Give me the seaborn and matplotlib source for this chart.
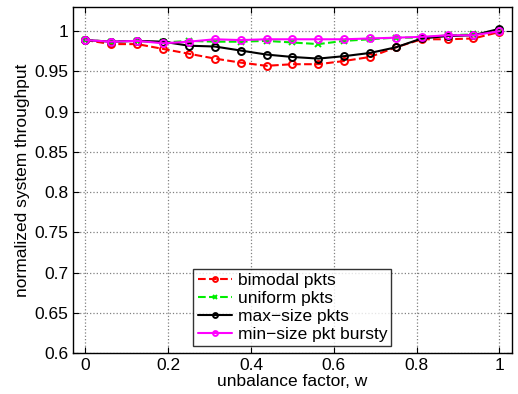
import numpy as np
import pandas as pd
import matplotlib
matplotlib.use("Agg")
import matplotlib.pyplot as plt
import seaborn as sns

# unbalance factor, 17 points from 0 to 1
w = [0, 0.0625, 0.125, 0.1875, 0.25, 0.3125, 0.375, 0.4375, 0.5,
     0.5625, 0.625, 0.6875, 0.75, 0.8125, 0.875, 0.9375, 1.0]

bimodal = [0.989, 0.984, 0.984, 0.978, 0.972, 0.966, 0.961, 0.957, 0.959,
           0.959, 0.963, 0.968, 0.980, 0.990, 0.990, 0.991, 0.999]
uniform = [0.989, 0.987, 0.988, 0.986, 0.988, 0.987, 0.987, 0.988, 0.986,
           0.984, 0.988, 0.990, 0.992, 0.992, 0.995, 0.996, 1.000]
maxsize = [0.989, 0.987, 0.988, 0.987, 0.982, 0.981, 0.976, 0.971, 0.968,
           0.966, 0.969, 0.973, 0.980, 0.991, 0.994, 0.995, 1.003]
minburst = [0.989, 0.987, 0.988, 0.985, 0.987, 0.990, 0.989, 0.990, 0.990,
            0.990, 0.990, 0.991, 0.992, 0.993, 0.995, 0.995, 1.000]

labels = ['bimodal pkts', 'uniform pkts', 'max\u2212size pkts', 'min\u2212size pkt bursty']
yticks = [0.6, 0.65, 0.7, 0.75, 0.8, 0.85, 0.9, 0.95, 1.0]
ytick_labels = ['0.6', '0.65', '0.7', '0.75', '0.8', '0.85', '0.9', '0.95', '1']
xticks = [0, 0.2, 0.4, 0.6, 0.8, 1.0]
xtick_labels = ['0', '0.2', '0.4', '0.6', '0.8', '1']

df = pd.DataFrame({
    'w': w * 4,
    'thr': bimodal + uniform + maxsize + minburst,
    'series': sum([[l] * len(w) for l in labels], []),
})

sns.set_style("ticks")
plt.rcParams['font.family'] = ['Liberation Sans', 'DejaVu Sans']
plt.rcParams['font.size'] = 12.5
plt.rcParams['text.color'] = 'black'
plt.rcParams['axes.labelcolor'] = 'black'
plt.rcParams['xtick.color'] = 'black'
plt.rcParams['ytick.color'] = 'black'

fig = plt.figure(figsize=(5.18, 3.94), dpi=100)
ax = fig.add_axes([0.141, 0.104, 0.847, 0.878])

styles = {
    labels[0]: dict(color='#ff0000', linestyle='--', marker='o'),
    labels[1]: dict(color='#00ee00', linestyle='--', marker='x'),
    labels[2]: dict(color='black', linestyle='-', marker='o'),
    labels[3]: dict(color='#ff00ff', linestyle='-', marker='o'),
}

for lab in labels:
    st = styles[lab]
    sns.lineplot(data=df[df['series'] == lab], x='w', y='thr', ax=ax,
                 color=st['color'], linestyle=st['linestyle'], marker=st['marker'],
                 markerfacecolor='none', markeredgecolor=st['color'],
                 markersize=5, markeredgewidth=1.4, linewidth=1.5, label=lab)

ax.set_xlim(-0.03, 1.03)
ax.set_ylim(0.6, 1.03)
ax.set_xticks(xticks)
ax.set_xticklabels(xtick_labels)
ax.set_yticks(yticks)
ax.set_yticklabels(ytick_labels)
ax.grid(True, linestyle=':', color='#808080', linewidth=0.9)
ax.tick_params(direction='in', top=True, right=True, length=4, labelsize=12.5)
for s in ax.spines.values():
    s.set_visible(True)
    s.set_linewidth(1.0)
    s.set_color('black')

ax.set_xlabel('unbalance factor, w', fontsize=12.5, labelpad=1)
ax.set_ylabel('normalized system throughput', fontsize=12.5, labelpad=3)

leg = ax.legend(loc='lower center', bbox_to_anchor=(0.5, 0.01), frameon=True,
                fancybox=False, edgecolor='black', fontsize=12.5,
                handlelength=2.0, handletextpad=0.3, borderpad=0.25,
                labelspacing=0.15, borderaxespad=0.2, markerscale=0.7)
leg.get_frame().set_linewidth(1.0)

fig.savefig('out.png', dpi=100)
